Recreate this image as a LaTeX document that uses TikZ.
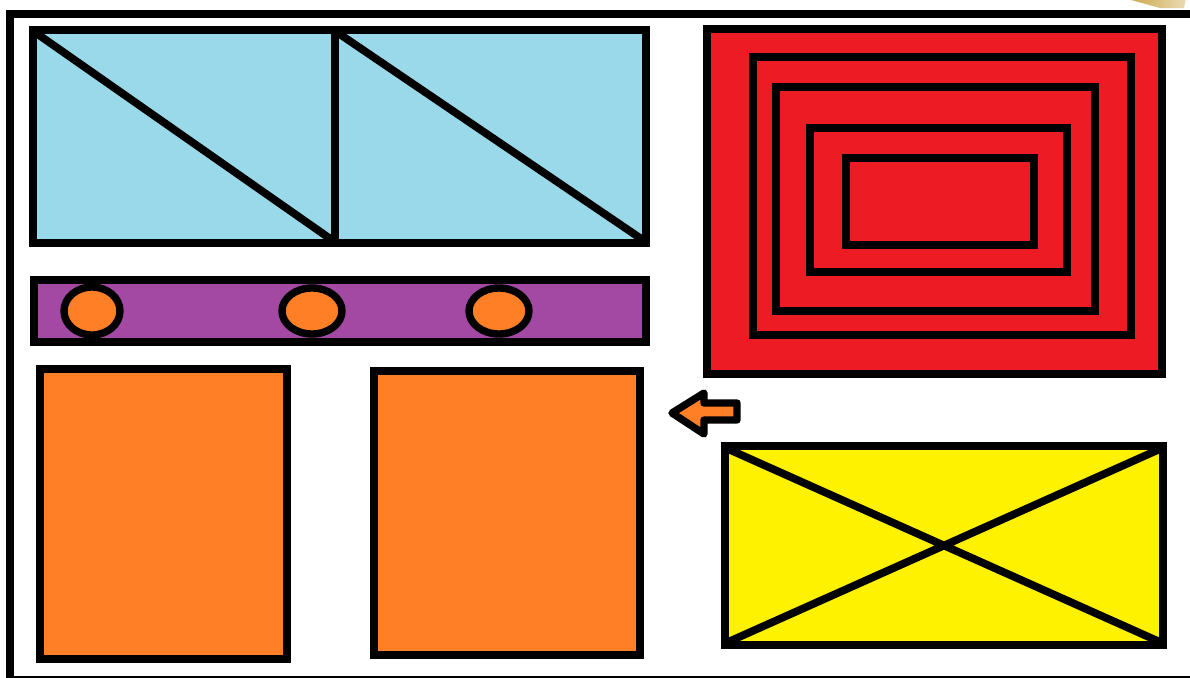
\documentclass[tikz,border=0pt]{standalone}
\definecolor{paintblue}{HTML}{99D9EA}
\definecolor{paintred}{HTML}{ED1C24}
\definecolor{paintpurple}{HTML}{A349A4}
\definecolor{paintorange}{HTML}{FF7F27}
\definecolor{paintyellow}{HTML}{FFF200}
\definecolor{paintgold}{HTML}{C9A440}
\begin{document}
\begin{tikzpicture}[x=0.02cm, y=-0.02cm, line join=miter, line cap=rect,
	panel/.style={draw=black, line width=4.6pt},
	stroke/.style={draw=black, line width=4.4pt, line cap=round}]
	\useasboundingbox (0,0) rectangle (1190,677);
	\begin{scope}
		\clip (0,0) rectangle (1190,677);
		\fill[white] (0,0) rectangle (1190,677);
		% outer frame runs off the right and bottom edges
		\draw[panel] (10,14) rectangle (1198,680);
		\shade[left color=paintgold, right color=paintgold!40!white]
			(1124,-2)--(1186,-2)--(1184,8)--(1160,8)--cycle;
	\end{scope}
	% blue window
	\draw[panel, fill=paintblue] (33,30) rectangle (646,243);
	\draw[panel] (335,30)--(335,243);
	\draw[stroke] (36,33)--(332,240) (338,33)--(643,240);
	% red nested frames
	\draw[panel, fill=paintred] (707,29) rectangle (1162,374);
	\foreach \l/\t/\r/\b in {753/57/1131/335, 776/87/1095/311, 810/128/1067/272, 846/158/1034/245}
		\draw[panel] (\l,\t) rectangle (\r,\b);
	% purple bar with dots
	\draw[panel, fill=paintpurple] (34,280) rectangle (646,342);
	\foreach \cx/\rx/\ry in {92/28/24, 312/30/23, 499/30/23}
		\draw[panel, line width=4.2pt, fill=paintorange] (\cx,311) ellipse ({\rx} and {\ry});
	% orange blocks
	\draw[panel, fill=paintorange] (40,369) rectangle (287,659);
	\draw[panel, fill=paintorange] (374,371) rectangle (640,655);
	% arrow
	\draw[panel, line width=4.2pt, line join=round, fill=paintorange]
		(672,413)--(704,393)--(704,403)--(737,403)--(737,420)--(704,420)--(704,434)--cycle;
	% yellow crossed box
	\draw[panel, fill=paintyellow] (725,446) rectangle (1163,645);
	\draw[stroke] (728,449)--(1160,642) (728,642)--(1160,449);
\end{tikzpicture}
\end{document}
